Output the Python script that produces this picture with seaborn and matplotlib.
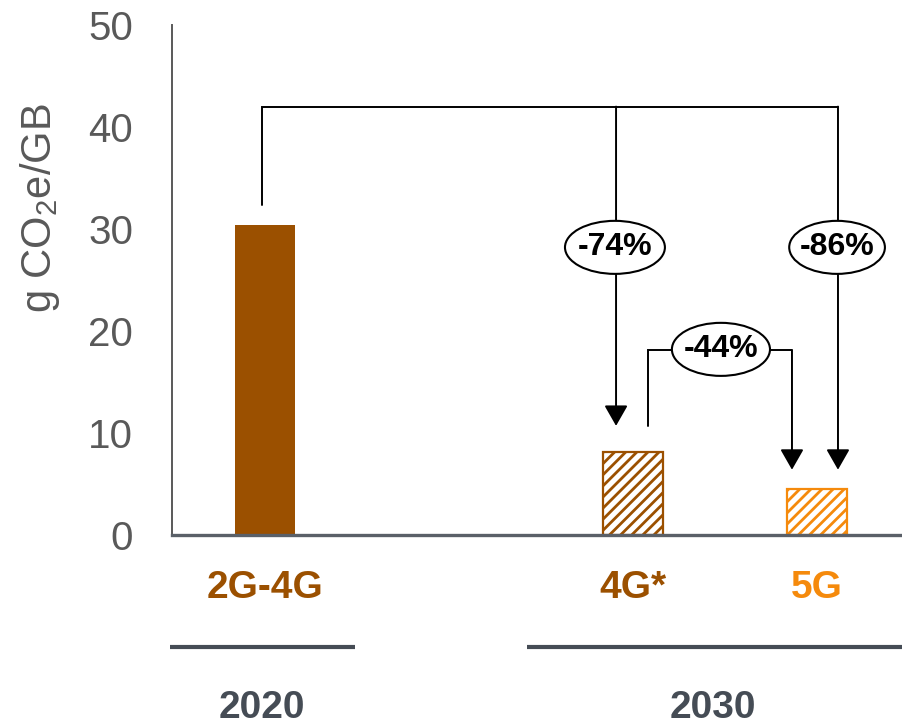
import matplotlib
matplotlib.use("Agg")
import matplotlib.pyplot as plt
import matplotlib.transforms as mtransforms
from matplotlib.patches import Ellipse
import seaborn as sns
import pandas as pd

# Data
categories = ["2G-4G", "4G*", "5G"]
positions = [0, 2, 3]
emissions = [30.4, 8.1, 4.5]          # g CO2e per GB
years = ["2020", "2030"]
reductions = ["-74%", "-86%", "-44%"]
yticks = [0, 10, 20, 30, 40, 50]

BROWN = "#9B5000"
ORANGE = "#F58A0C"
AXIS_GREY = "#595959"
YEAR_GREY = "#454C55"
bar_colors = [BROWN, BROWN, ORANGE]

sns.set_style("white")
plt.rcParams["font.family"] = ["Liberation Sans", "DejaVu Sans"]
plt.rcParams["mathtext.fontset"] = "custom"
plt.rcParams["mathtext.rm"] = "Liberation Sans"
plt.rcParams["mathtext.it"] = "Liberation Sans"
plt.rcParams["hatch.linewidth"] = 2.0

fig = plt.figure(figsize=(9.02, 7.25), dpi=100)
ax = fig.add_axes([172 / 902, 190 / 725, 728 / 902, 510 / 725])

df = pd.DataFrame({"pos": positions, "value": emissions, "cat": categories})
sns.barplot(data=df, x="pos", y="value", hue="cat", palette=bar_colors,
            native_scale=True, dodge=False, width=0.325, saturation=1,
            legend=False, ax=ax, zorder=3)

# solid bar for 2020, hatched outlines for 2030 projections
for patch in ax.patches:
    xc = patch.get_x() + patch.get_width() / 2
    idx = min(range(len(positions)), key=lambda i: abs(positions[i] - xc))
    col = bar_colors[idx]
    if idx == 0:
        patch.set_facecolor(col)
        patch.set_edgecolor("none")
    else:
        patch.set_facecolor("white")
        patch.set_edgecolor(col)
        patch.set_hatch("///")
        patch.set_linewidth(1.6)

ax.set_xlim(-0.505, 3.451)
ax.set_ylim(0, 50)

for side in ["top", "right"]:
    ax.spines[side].set_visible(False)
ax.spines["left"].set_color(AXIS_GREY)
ax.spines["left"].set_linewidth(1.4)
ax.spines["bottom"].set_color("#5A6068")
ax.spines["bottom"].set_linewidth(2.4)
ax.spines["bottom"].set_zorder(4)

ax.set_yticks(yticks)
ax.tick_params(axis="y", length=0, pad=28, labelsize=29, labelcolor=AXIS_GREY)
ax.set_xticks(positions, categories)
ax.tick_params(axis="x", length=0, pad=25)
for lab, col in zip(ax.get_xticklabels(), bar_colors):
    lab.set_color(col)
    lab.set_fontsize(28)
    lab.set_fontweight("bold")
ax.set_xlabel("")
ax.set_ylabel("")
fig.text(40 / 902, 1 - 208 / 725, "g CO$_2$e/GB", rotation=90, ha="center",
         va="center", fontsize=30, color=AXIS_GREY)

# comparison brackets and arrows
LW = 1.4
arrow_kw = dict(arrowstyle="-|>,head_length=0.7,head_width=0.4", lw=LW,
                color="black", mutation_scale=18, shrinkA=0, shrinkB=0)
ax.plot([-0.016, -0.016, 3.114], [32.4, 42, 42], color="black", lw=LW,
        solid_joinstyle="miter", zorder=2)
ax.annotate("", xy=(1.908, 10.7), xytext=(1.908, 42), arrowprops=arrow_kw, zorder=2)
ax.annotate("", xy=(3.114, 6.4), xytext=(3.114, 42), arrowprops=arrow_kw, zorder=2)
ax.plot([2.082, 2.082, 2.864], [10.7, 18.1, 18.1], color="black", lw=LW,
        solid_joinstyle="miter", zorder=2)
ax.annotate("", xy=(2.864, 6.4), xytext=(2.864, 18.1), arrowprops=arrow_kw, zorder=2)

labels_xy = [(1.902, 28.2, 0.543), (3.109, 28.2, 0.52), (2.478, 18.2, 0.533)]
for text, (x, y, w) in zip(reductions, labels_xy):
    ax.add_patch(Ellipse((x, y), w, 5.2, facecolor="white", edgecolor="black",
                         lw=1.5, zorder=5))
    ax.text(x, y, text, ha="center", va="center", fontsize=23,
            fontweight="bold", color="black", zorder=6)

# year groupings under the axis
blend = mtransforms.blended_transform_factory(ax.transData, ax.transAxes)
year_spans = [(-0.516, 0.489), (1.424, 3.46)]
year_centers = [-0.016, 2.435]
for yr, (x0, x1), xc in zip(years, year_spans, year_centers):
    ax.plot([x0, x1], [-0.2196, -0.2196], transform=blend, clip_on=False,
            color=YEAR_GREY, lw=3, solid_capstyle="butt")
    ax.text(xc, -0.339, yr, transform=blend, ha="center", va="center",
            fontsize=28, fontweight="bold", color=YEAR_GREY)

fig.savefig("out.png", dpi=100)
